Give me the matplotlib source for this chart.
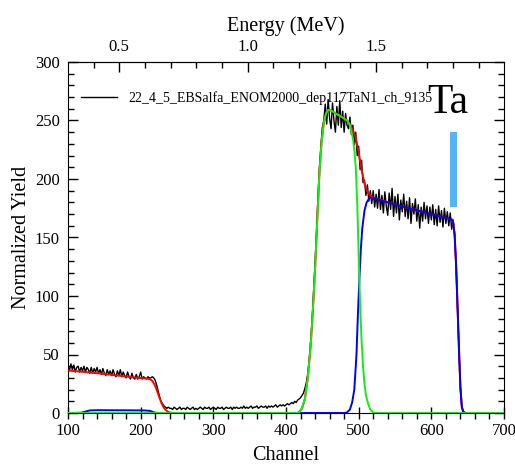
import numpy as np
import matplotlib
matplotlib.use("Agg")
import matplotlib.pyplot as plt
from matplotlib.ticker import MultipleLocator
from matplotlib.patches import Rectangle

plt.rcParams['font.family'] = ['Liberation Serif', 'DejaVu Serif']

# Measured spectrum, every second channel starting at channel 100
counts = [
    40, 36, 42, 37, 41, 35, 39, 40, 35, 39,
    36, 40, 35, 39, 37, 34, 39, 34, 38, 35,
    39, 34, 37, 33, 38, 34, 32, 37, 33, 36,
    32, 37, 33, 31, 36, 32, 37, 31, 35, 32,
    30, 35, 31, 29, 34, 30, 29, 33, 29, 31,
    35, 29, 31, 30, 29, 31, 30, 30,
    31, 30, 28, 24, 19, 14, 10, 8, 6, 5, 4, 5, 4,
    4, 3, 5, 4, 3, 4, 5, 3, 4, 4, 3, 5, 4, 3, 4, 5, 3, 4, 3, 4,
    5, 4, 3, 5, 4, 4, 5, 3, 4, 5, 4, 3, 5, 4, 4, 5, 3, 4, 5, 4,
    4, 5, 3, 5, 4, 5, 4, 4, 5, 4, 6, 4, 5, 4, 5, 6, 4, 5, 5, 6,
    4, 5, 6, 5, 5, 6, 4, 6, 5, 6, 5, 6, 7, 5, 6, 7, 6, 7, 6, 7,
    8, 7, 8, 9, 8, 10, 9, 11, 12,
    13, 15, 17, 21, 26, 34, 46, 62, 80, 104, 128, 155, 185, 210, 228, 244,
    250, 264, 247, 268, 252, 243, 265, 250, 240, 262,
    246, 267, 244, 258, 240, 256, 246, 243, 253, 238,
    246, 229, 240, 220, 228, 208, 216, 197, 199, 186, 195, 181, 190,
    179, 190, 176, 187, 175, 191, 174, 186, 171, 189,
    177, 169, 188, 174, 192, 168, 185, 171, 187, 165,
    182, 172, 187, 168, 181, 166, 184, 162, 179, 170,
    183, 164, 178, 158, 176, 164, 180, 166, 177, 162,
    176, 165, 178, 161, 174, 160, 177, 163, 173, 159,
    175, 162, 172, 160, 171, 157, 165,
    152, 126, 90, 52, 20, 5, 1, 0, 0, 0,
]
channels = 100 + 2 * np.arange(len(counts))

# Simulated total spectrum
sim_ch = [100, 110, 120, 130, 140, 150, 160, 170, 180, 190, 200, 206, 210, 213,
          216, 219, 222, 225, 228, 231, 234, 237, 240, 245, 415, 418, 422, 426,
          430, 434, 437, 440, 443, 446, 449, 452, 455, 458, 462, 470, 478, 484,
          488, 492, 496, 500, 504, 508, 512, 516, 520, 560, 600, 628, 630, 632,
          634, 636, 638, 640, 642, 644, 647, 700]
sim_y = [36.3, 35.8, 35.2, 34.6, 34.0, 33.3, 32.6, 31.9, 31.2, 30.5, 29.9, 29.6,
         29.3, 28.9, 27.5, 24.5, 20, 14.5, 9.5, 5.5, 2.8, 1.2, 0.4, 0, 0, 0.5,
         4, 12, 30, 58, 88, 123, 165, 205, 232, 248, 256, 259, 258.5, 255.5,
         252.5, 250, 247, 242, 235, 223, 208, 196, 189, 186, 184, 176.5, 170,
         165.5, 163, 153, 128, 92, 55, 22, 5, 1, 0, 0]

# Ta contribution
ta_ch = [100, 118, 124, 130, 140, 180, 205, 213, 217, 221, 226, 480, 484, 488,
         491, 494, 497, 499, 501, 503, 505, 508, 511, 515, 520, 560, 600, 628,
         630, 632, 634, 636, 638, 640, 642, 644, 647, 700]
ta_y = [0, 0.2, 1.2, 2.2, 2.4, 2.3, 2.2, 1.8, 0.8, 0.2, 0, 0, 0.5, 3, 9, 20, 50,
        85, 115, 140, 158, 173, 180, 184, 183.5, 176.5, 170, 165.5, 163, 153,
        128, 92, 55, 22, 5, 1, 0, 0]

# N / light-element contribution
n_ch = [100, 415, 418, 422, 426, 430, 434, 437, 440, 443, 446, 449, 452, 455,
        458, 462, 470, 478, 484, 488, 492, 494, 496, 498, 500, 502, 504, 506,
        508, 510, 513, 516, 520, 525, 700]
n_y = [0, 0, 0.5, 4, 12, 30, 58, 88, 123, 165, 205, 232, 248, 256, 259, 258.5,
       255.5, 252.5, 250, 246, 235, 225, 210, 180, 135, 92, 62, 40, 25, 15, 8,
       3, 0.5, 0, 0]

legend_label = "22_4_5_EBSalfa_ENOM2000_dep117TaN1_ch_9135"

# Energy calibration (MeV)
E_OFFSET = 0.0171
E_GAIN = 0.0028305


def ch_to_e(ch):
    return E_OFFSET + E_GAIN * np.asarray(ch)


def e_to_ch(e):
    return (np.asarray(e) - E_OFFSET) / E_GAIN


fig = plt.figure(figsize=(5.15, 4.65), dpi=100)
ax = fig.add_axes([68 / 515, 1 - 413 / 465, 436 / 515, 351 / 465])

ax.plot(channels, counts, color='black', lw=1.0, zorder=2, label=legend_label)
ax.plot(sim_ch, sim_y, color='#ff0000', lw=1.4, zorder=3)
ax.plot(ta_ch, ta_y, color='#0000ff', lw=1.4, zorder=4)
ax.plot(n_ch, n_y, color='#11ee11', lw=1.4, zorder=5)

ax.add_patch(Rectangle((626, 176), 10, 64.5, facecolor='#55b4f6',
                       edgecolor='none', zorder=6))
ax.text(594, 256, 'Ta', fontsize=30, va='baseline', ha='left', zorder=7)

ax.set_xlim(100, 700)
ax.set_ylim(0, 300)
ax.xaxis.set_major_locator(MultipleLocator(100))
ax.xaxis.set_minor_locator(MultipleLocator(20))
ax.yaxis.set_major_locator(MultipleLocator(50))
ax.yaxis.set_minor_locator(MultipleLocator(10))

ax.tick_params(axis='x', which='major', direction='inout', length=8, width=1,
               labelsize=12, pad=3)
ax.tick_params(axis='x', which='minor', direction='out', length=4, width=1)
ax.tick_params(axis='y', which='major', direction='in', length=7, width=1,
               labelsize=12, pad=6, right=True)
ax.tick_params(axis='y', which='minor', direction='in', length=4, width=1,
               right=True)

ax.set_xlabel('Channel', fontsize=14.5, labelpad=5)
ax.set_ylabel('Normalized Yield', fontsize=14.5, labelpad=3)

secax = ax.secondary_xaxis('top', functions=(ch_to_e, e_to_ch))
secax.xaxis.set_major_locator(MultipleLocator(0.5))
secax.xaxis.set_minor_locator(MultipleLocator(0.1))
secax.tick_params(which='major', direction='in', length=7, width=1,
                  labelsize=12, pad=5)
secax.tick_params(which='minor', direction='in', length=4, width=1)
secax.set_xlabel('Energy (MeV)', fontsize=14.5, labelpad=6)

leg = ax.legend(loc='upper left', bbox_to_anchor=(0.03, 0.918), frameon=False,
                fontsize=10, handlelength=2.6, handletextpad=0.8,
                borderaxespad=0, borderpad=0)

fig.savefig('out.png', dpi=100)
